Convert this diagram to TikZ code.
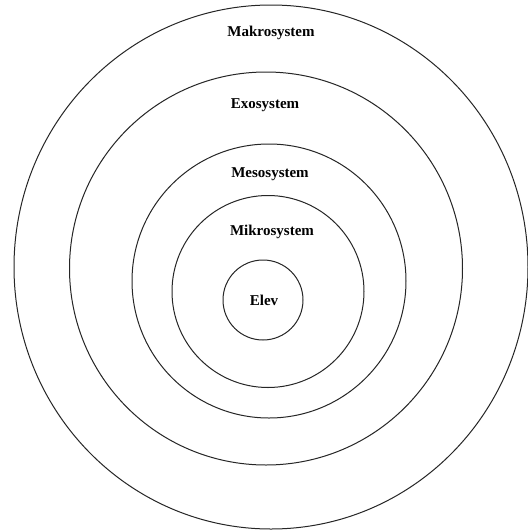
\documentclass[tikz,border=0pt]{standalone}
\usepackage{fontspec}
\setmainfont{Liberation Serif}
\begin{document}
\begin{tikzpicture}[x=1pt,y=-1pt,
  ring/.style={draw=black!85,line width=1.0pt},
  lbl/.style={font=\fontsize{15}{18}\selectfont\bfseries,inner sep=0pt,anchor=center}]
\useasboundingbox (0,0) rectangle (528,531);
\fill[white] (0,0) rectangle (528,531);
\draw[ring] (271,267) ellipse [x radius=257, y radius=262];
\draw[ring] (266,268.5) circle [radius=196.5];
\draw[ring] (269,281) circle [radius=137];
\draw[ring] (268,291.5) circle [radius=96];
\draw[ring] (263,300) circle [radius=40];
\node[lbl] (makro) at (271,33) {Makrosystem};
\node[lbl] (exo) at (265,105) {Exosystem};
\node[lbl] (meso) at (270,174) {Mesosystem};
\node[lbl] (mikro) at (272,232) {Mikrosystem};
\node[lbl] (elev) at (264,300) {Elev};
\end{tikzpicture}
\end{document}
